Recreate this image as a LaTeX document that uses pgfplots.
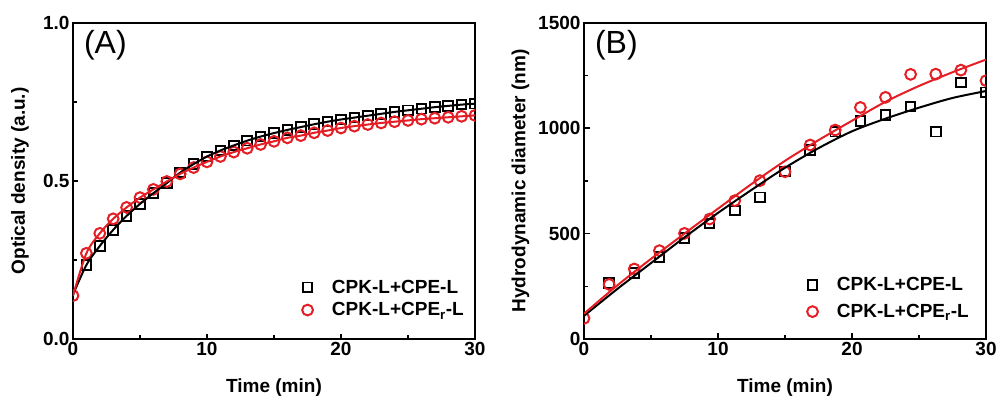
\documentclass[border=0pt]{standalone}
\usepackage{fontspec}
\setmainfont{Liberation Sans}
\usepackage{pgfplots}
\usepackage{pgfplotstable}
\pgfplotsset{compat=1.18}
\definecolor{myred}{RGB}{228,30,36}

\pgfplotstableread{
t b r
0 0.140 0.137
1 0.234 0.271
2 0.294 0.334
3 0.345 0.380
4 0.389 0.416
5 0.427 0.447
6 0.461 0.473
7 0.493 0.498
8 0.526 0.522
9 0.553 0.542
10 0.577 0.560
11 0.596 0.577
12 0.612 0.591
13 0.627 0.603
14 0.640 0.615
15 0.651 0.625
16 0.661 0.636
17 0.670 0.643
18 0.679 0.652
19 0.687 0.659
20 0.694 0.667
21 0.700 0.673
22 0.706 0.678
23 0.712 0.683
24 0.718 0.687
25 0.723 0.691
26 0.728 0.695
27 0.733 0.698
28 0.737 0.701
29 0.741 0.704
30 0.744 0.707
}\leftdata

\pgfplotstableread{
t b r
0 100 98
1.875 265 259
3.75 314 332
5.625 390 419
7.5 480 501
9.375 548 569
11.25 609 656
13.125 672 751
15 795 793
16.875 896 920
18.75 983 991
20.625 1035 1098
22.5 1062 1146
24.375 1102 1255
26.25 983 1256
28.125 1217 1275
30 1170 1225
}\rightdata

\pgfplotstableread{
t b r
0 110 120
2.5 238 255
5 360 380
7.5 482 500
10 598 618
12.5 707 735
15 812 845
17.5 905 943
20 985 1035
22.5 1045 1125
25 1097 1200
27.5 1143 1265
30 1176 1325
}\rightfit

\pgfplotsset{
  myaxis/.style={
    scale only axis, width=402bp, height=316.3bp,
    xmin=0, xmax=30, xtick={0,10,20,30}, minor x tick num=1,
    minor y tick num=1,
    tick align=inside, xtick pos=bottom, ytick pos=left,
    major tick length=5.5bp, minor tick length=4bp,
    every tick/.style={black, line width=1.5bp},
    axis line style={line width=2bp},
    clip marker paths=true,
    /pgf/number format/assume math mode=true,
    ticklabel style={font=\bfseries\fontsize{19bp}{19bp}\selectfont},
    label style={font=\bfseries\fontsize{19bp}{19bp}\selectfont},
    xlabel={Time (min)},
    xlabel style={at={(axis description cs:0.5,-0.155)}, anchor=center},
    legend cell align=left,
    legend style={draw=none, fill=none, font=\bfseries\fontsize{19bp}{19bp}\selectfont,
      anchor=south east, /tikz/every odd column/.append style={column sep=17bp}},
  },
  sq/.style={only marks, mark=square, mark size=4.8bp, black, mark options={line width=1.9bp}},
  ci/.style={only marks, mark=o, mark size=5.4bp, myred, mark options={line width=2bp}},
}

\begin{document}
\begin{tikzpicture}
\path[use as bounding box] (-73bp,-60bp) rectangle (926bp,339bp);
\begin{axis}[myaxis, ymin=0, ymax=1, ytick={0,0.5,1},
  yticklabel style={/pgf/number format/.cd, fixed, fixed zerofill, precision=1},
  ylabel={Optical density (a.u.)},
  ylabel style={at={(axis description cs:-0.132,0.5)}, anchor=center},
  legend style={at={(axis description cs:0.985,0.055)}, row sep=4bp}]
\addplot[sq, skip coords between index={0}{1}] table[x=t,y=b] {\leftdata};
\addlegendentry{CPK-L+CPE-L}
\addplot[ci] table[x=t,y=r] {\leftdata};
\addlegendentry{CPK-L+CPE\textsubscript{r}-L}
\addplot[black, line width=2bp, smooth, forget plot] table[x=t,y=b] {\leftdata};
\addplot[myred, line width=2bp, smooth, forget plot] table[x=t,y=r] {\leftdata};
\node[anchor=north west, inner sep=0pt, font=\fontsize{32bp}{32bp}\selectfont] at (rel axis cs:0.027,0.975) {(A)};
\end{axis}
\begin{axis}[myaxis, at={(511bp,0bp)}, ymin=0, ymax=1500, ytick={0,500,1000,1500},
  yticklabel style={/pgf/number format/.cd, 1000 sep={}},
  ylabel={Hydrodynamic diameter (nm)},
  ylabel style={at={(axis description cs:-0.158,0.5)}, anchor=center},
  legend style={at={(axis description cs:0.97,0.05)}, row sep=8bp}]
\addplot[sq, skip coords between index={0}{1}] table[x=t,y=b] {\rightdata};
\addlegendentry{CPK-L+CPE-L}
\addplot[ci] table[x=t,y=r] {\rightdata};
\addlegendentry{CPK-L+CPE\textsubscript{r}-L}
\addplot[black, line width=2bp, smooth, forget plot] table[x=t,y=b] {\rightfit};
\addplot[myred, line width=2bp, smooth, forget plot] table[x=t,y=r] {\rightfit};
\node[anchor=north west, inner sep=0pt, font=\fontsize{32bp}{32bp}\selectfont] at (rel axis cs:0.027,0.975) {(B)};
\end{axis}
\end{tikzpicture}
\end{document}
